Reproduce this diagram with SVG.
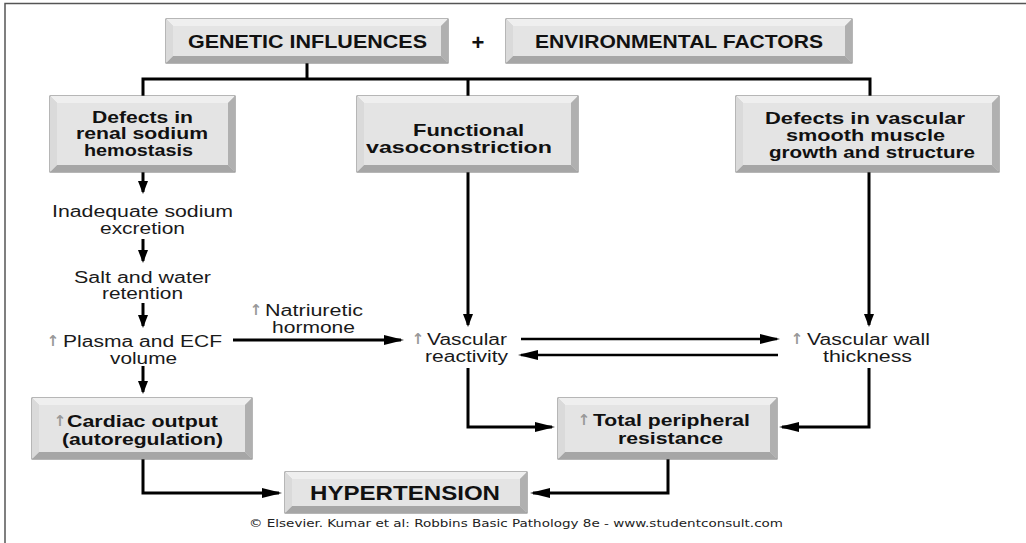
<svg xmlns="http://www.w3.org/2000/svg" width="1026" height="543" viewBox="0 0 1026 543">
<defs>
<style>
.o{fill:#cfcfcf;stroke:#6e6e6e;stroke-width:1}
.t{fill:#efefef}
.b{fill:#a6a6a6}
.l{fill:#dadada}
.r{fill:#b0b0b0}
.i{fill:#e4e4e4}
.bt{font-family:"Liberation Sans",Arial,sans-serif;font-weight:bold;font-size:16.5px;fill:#111}
.cap{font-family:"Liberation Sans",Arial,sans-serif;font-weight:bold;font-size:17.5px;fill:#111}
.rt{font-family:"Liberation Sans",Arial,sans-serif;font-size:16px;fill:#1a1a1a}
.up{font-family:"DejaVu Sans",sans-serif;font-weight:bold;font-size:15px;fill:#999}
.ft{font-family:"DejaVu Sans",Verdana,sans-serif;font-size:10.5px;fill:#222}
.c{fill:none;stroke:#000;stroke-width:3}
</style>
<marker id="av" markerUnits="userSpaceOnUse" markerWidth="14" markerHeight="11" refX="11" refY="5" orient="auto"><path d="M0,0 L13,5 L0,10 z" fill="#000"/></marker>
<marker id="ah" markerUnits="userSpaceOnUse" markerWidth="21" markerHeight="11" refX="17" refY="5" orient="auto"><path d="M0,0 L20,5 L0,10 z" fill="#000"/></marker>
</defs>
<rect width="1026" height="543" fill="#fff"/>
<path d="M5,543 V3.5 H1026" fill="none" stroke="#555" stroke-width="1.5"/>

<g id="connectors">
<path class="c" d="M307,63 V79"/>
<path class="c" d="M143,96 V79 H870 V96"/>
<path class="c" d="M468,79 V96"/>
<path class="c" d="M143,172 V192" marker-end="url(#av)"/>
<path class="c" d="M143,239 V261" marker-end="url(#av)"/>
<path class="c" d="M143,303 V326" marker-end="url(#av)"/>
<path class="c" d="M143,366 V392" marker-end="url(#av)"/>
<path class="c" d="M468,172 V325" marker-end="url(#av)"/>
<path class="c" d="M869,172 V325" marker-end="url(#av)"/>
<path class="c" d="M233,340 H401" marker-end="url(#ah)"/>
<path class="c" style="stroke-width:2.6" d="M521,339 H777" marker-end="url(#ah)"/>
<path class="c" style="stroke-width:2.6" d="M778,355 H521" marker-end="url(#ah)"/>
<path class="c" d="M468,368 V427 H552" marker-end="url(#ah)"/>
<path class="c" d="M869,368 V427 H782" marker-end="url(#ah)"/>
<path class="c" d="M143,459 V493 H279" marker-end="url(#ah)"/>
<path class="c" d="M668,459 V493 H533" marker-end="url(#ah)"/>
</g>

<g id="genetic">
<rect class="o" x="166" y="19" width="282" height="44"/>
<polygon class="t" points="166,19 448,19 441,26 173,26"/>
<polygon class="b" points="166,63 448,63 441,56 173,56"/>
<polygon class="l" points="166,19 173,26 173,56 166,63"/>
<polygon class="r" points="448,19 441,26 441,56 448,63"/>
<rect class="i" x="173" y="26" width="268" height="30"/>
<text class="cap" x="188" y="47.5" textLength="239" lengthAdjust="spacingAndGlyphs">GENETIC INFLUENCES</text>
</g>

<g id="plus">
<text x="478" y="50" text-anchor="middle" style="font-family:'Liberation Sans',Arial,sans-serif;font-weight:bold;font-size:22px;fill:#111">+</text>
</g>

<g id="environmental">
<rect class="o" x="506" y="19" width="346" height="44"/>
<polygon class="t" points="506,19 852,19 845,26 513,26"/>
<polygon class="b" points="506,63 852,63 845,56 513,56"/>
<polygon class="l" points="506,19 513,26 513,56 506,63"/>
<polygon class="r" points="852,19 845,26 845,56 852,63"/>
<rect class="i" x="513" y="26" width="332" height="30"/>
<text class="cap" x="535" y="47.5" textLength="288" lengthAdjust="spacingAndGlyphs">ENVIRONMENTAL FACTORS</text>
</g>

<g id="renal">
<rect class="o" x="50" y="96" width="185" height="76"/>
<polygon class="t" points="50,96 235,96 228,103 57,103"/>
<polygon class="b" points="50,172 235,172 228,165 57,165"/>
<polygon class="l" points="50,96 57,103 57,165 50,172"/>
<polygon class="r" points="235,96 228,103 228,165 235,172"/>
<rect class="i" x="57" y="103" width="171" height="62"/>
<text class="bt" x="92" y="122.5" textLength="101" lengthAdjust="spacingAndGlyphs">Defects in</text>
<text class="bt" x="76" y="139" textLength="132" lengthAdjust="spacingAndGlyphs">renal sodium</text>
<text class="bt" x="84" y="155.5" textLength="109" lengthAdjust="spacingAndGlyphs">hemostasis</text>
</g>

<g id="functional">
<rect class="o" x="357" y="96" width="221" height="76"/>
<polygon class="t" points="357,96 578,96 571,103 364,103"/>
<polygon class="b" points="357,172 578,172 571,165 364,165"/>
<polygon class="l" points="357,96 364,103 364,165 357,172"/>
<polygon class="r" points="578,96 571,103 571,165 578,172"/>
<rect class="i" x="364" y="103" width="207" height="62"/>
<text class="bt" x="413" y="135.5" textLength="111" lengthAdjust="spacingAndGlyphs">Functional</text>
<text class="bt" x="366" y="152.5" textLength="186" lengthAdjust="spacingAndGlyphs">vasoconstriction</text>
</g>

<g id="vascular-defects">
<rect class="o" x="736" y="96" width="263" height="76"/>
<polygon class="t" points="736,96 999,96 992,103 743,103"/>
<polygon class="b" points="736,172 999,172 992,165 743,165"/>
<polygon class="l" points="736,96 743,103 743,165 736,172"/>
<polygon class="r" points="999,96 992,103 992,165 999,172"/>
<rect class="i" x="743" y="103" width="249" height="62"/>
<text class="bt" x="765" y="123.5" textLength="200" lengthAdjust="spacingAndGlyphs">Defects in vascular</text>
<text class="bt" x="786" y="140.5" textLength="159" lengthAdjust="spacingAndGlyphs">smooth muscle</text>
<text class="bt" x="769" y="157.5" textLength="206" lengthAdjust="spacingAndGlyphs">growth and structure</text>
</g>

<g id="sodium-excretion">
<text class="rt" x="52" y="216.5" textLength="181" lengthAdjust="spacingAndGlyphs">Inadequate sodium</text>
<text class="rt" x="100" y="233.5" textLength="85" lengthAdjust="spacingAndGlyphs">excretion</text>
</g>

<g id="salt-water">
<text class="rt" x="74" y="282.5" textLength="137" lengthAdjust="spacingAndGlyphs">Salt and water</text>
<text class="rt" x="102" y="298.5" textLength="81" lengthAdjust="spacingAndGlyphs">retention</text>
</g>

<g id="plasma">
<text class="up" x="53" y="346" text-anchor="middle">↑</text>
<text class="rt" x="63" y="346.5" textLength="159" lengthAdjust="spacingAndGlyphs">Plasma and ECF</text>
<text class="rt" x="110" y="363.5" textLength="67" lengthAdjust="spacingAndGlyphs">volume</text>
</g>

<g id="natriuretic">
<text class="up" x="256" y="315" text-anchor="middle">↑</text>
<text class="rt" x="265" y="315.5" textLength="98" lengthAdjust="spacingAndGlyphs">Natriuretic</text>
<text class="rt" x="272" y="333" textLength="83" lengthAdjust="spacingAndGlyphs">hormone</text>
</g>

<g id="reactivity">
<text class="up" x="418" y="344" text-anchor="middle">↑</text>
<text class="rt" x="427" y="344.5" textLength="80" lengthAdjust="spacingAndGlyphs">Vascular</text>
<text class="rt" x="425" y="361.5" textLength="83" lengthAdjust="spacingAndGlyphs">reactivity</text>
</g>

<g id="wall">
<text class="up" x="797" y="344" text-anchor="middle">↑</text>
<text class="rt" x="807" y="344.5" textLength="123" lengthAdjust="spacingAndGlyphs">Vascular wall</text>
<text class="rt" x="823" y="361.5" textLength="89" lengthAdjust="spacingAndGlyphs">thickness</text>
</g>

<g id="cardiac">
<rect class="o" x="32" y="398" width="220" height="61"/>
<polygon class="t" points="32,398 252,398 245,405 39,405"/>
<polygon class="b" points="32,459 252,459 245,452 39,452"/>
<polygon class="l" points="32,398 39,405 39,452 32,459"/>
<polygon class="r" points="252,398 245,405 245,452 252,459"/>
<rect class="i" x="39" y="405" width="206" height="47"/>
<text class="up" x="60" y="426" text-anchor="middle">↑</text>
<text class="bt" x="67" y="426.5" textLength="151" lengthAdjust="spacingAndGlyphs">Cardiac output</text>
<text class="bt" x="62" y="445" textLength="161" lengthAdjust="spacingAndGlyphs">(autoregulation)</text>
</g>

<g id="tpr">
<rect class="o" x="558" y="398" width="219" height="61"/>
<polygon class="t" points="558,398 777,398 770,405 565,405"/>
<polygon class="b" points="558,459 777,459 770,452 565,452"/>
<polygon class="l" points="558,398 565,405 565,452 558,459"/>
<polygon class="r" points="777,398 770,405 770,452 777,459"/>
<rect class="i" x="565" y="405" width="205" height="47"/>
<text class="up" x="584" y="425" text-anchor="middle">↑</text>
<text class="bt" x="593" y="425.5" textLength="157" lengthAdjust="spacingAndGlyphs">Total peripheral</text>
<text class="bt" x="618" y="443.5" textLength="105" lengthAdjust="spacingAndGlyphs">resistance</text>
</g>

<g id="hypertension">
<rect class="o" x="285" y="472" width="242" height="41"/>
<polygon class="t" points="285,472 527,472 520,479 292,479"/>
<polygon class="b" points="285,513 527,513 520,506 292,506"/>
<polygon class="l" points="285,472 292,479 292,506 285,513"/>
<polygon class="r" points="527,472 520,479 520,506 527,513"/>
<rect class="i" x="292" y="479" width="228" height="27"/>
<text x="310" y="499.5" textLength="190" lengthAdjust="spacingAndGlyphs" style="font-family:'Liberation Sans',Arial,sans-serif;font-weight:bold;font-size:19.5px;fill:#111">HYPERTENSION</text>
</g>

<g id="footer">
<text class="ft" x="249" y="527" textLength="534" lengthAdjust="spacingAndGlyphs">© Elsevier. Kumar et al: Robbins Basic Pathology 8e - www.studentconsult.com</text>
</g>
</svg>
